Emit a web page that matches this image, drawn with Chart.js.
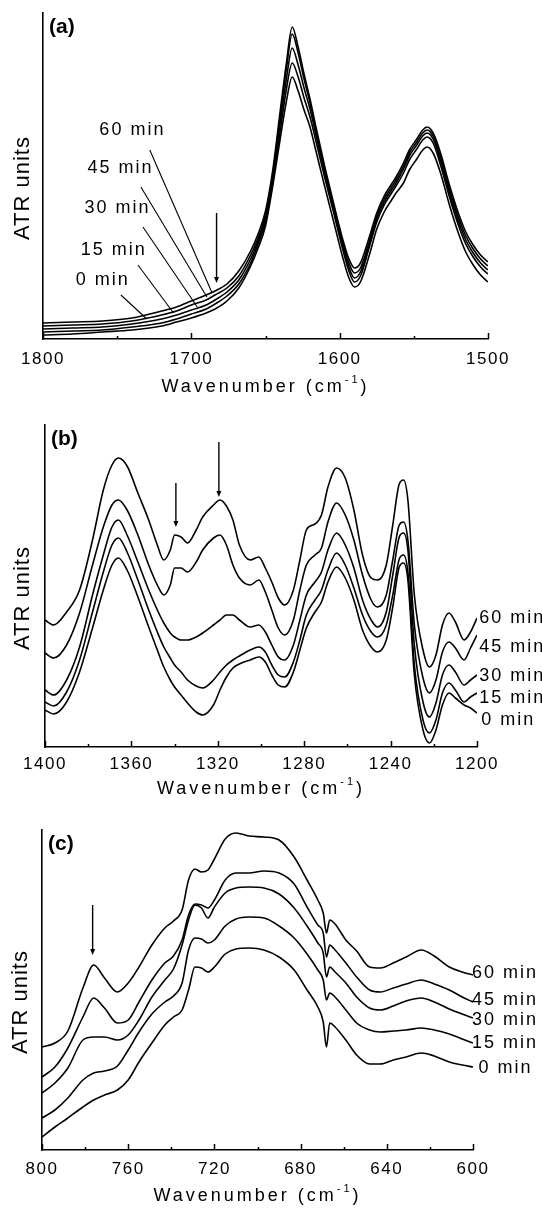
<!DOCTYPE html>
<html>
<head>
<meta charset="utf-8">
<script src="https://cdn.jsdelivr.net/npm/chart.js@4"></script>
<style>
  body { margin: 0; background: #fff; }
  canvas { position: absolute; left: 0; }
</style>
</head>
<body>
<canvas id="chartA" width="542" height="405" style="top:0"></canvas>
<canvas id="chartB" width="542" height="405" style="top:405px"></canvas>
<canvas id="chartC" width="542" height="400" style="top:810px"></canvas>
<script>
const times = ["60 min", "45 min", "30 min", "15 min", "0 min"];

// (a) amide region, 1800-1500 cm-1
const wnA = [1800, 1780, 1760, 1740, 1720, 1710, 1700, 1690, 1684, 1676, 1668, 1660, 1655, 1650, 1645, 1640, 1636, 1632, 1628, 1624, 1620, 1616, 1610, 1604, 1598, 1594, 1590, 1586, 1580, 1575, 1570, 1565, 1562, 1557, 1553, 1548, 1544, 1541, 1537, 1532, 1526, 1520, 1515, 1510, 1505, 1500];
const a60 = [16, 17, 18, 21, 28, 32, 38, 44, 48, 55, 68, 88, 105, 128, 170, 229, 275, 312, 292, 265, 240, 212, 172, 135, 100, 81, 71, 76, 102, 126, 143, 155, 162, 176, 189, 200, 209, 212, 206, 186, 154, 126, 107, 94, 84, 77];
const a45 = [13, 14, 15, 18, 24, 28, 34, 39, 44, 51, 63, 84, 101, 124, 166, 224, 269, 305, 286, 260, 236, 209, 169, 133, 97, 77, 66, 71, 98, 123, 140, 152, 159, 173, 186, 197, 206, 209, 203, 182, 150, 122, 103, 90, 80, 73];
const a30 = [10, 11, 12, 15, 20, 24, 29, 34, 39, 47, 59, 80, 98, 121, 162, 217, 259, 291, 274, 251, 230, 204, 166, 130, 94, 73, 61, 67, 95, 120, 137, 149, 156, 170, 183, 194, 203, 206, 200, 178, 146, 118, 99, 86, 76, 69];
const a15 = [7, 8, 9, 12, 16, 20, 25, 30, 35, 43, 55, 76, 95, 117, 158, 209, 249, 276, 262, 241, 222, 198, 161, 126, 90, 69, 57, 63, 92, 117, 134, 146, 153, 166, 179, 190, 199, 202, 196, 174, 142, 114, 95, 82, 72, 65];
const a0 = [4, 5, 7, 9, 13, 17, 21, 26, 30, 38, 51, 73, 91, 113, 154, 201, 237, 262, 248, 229, 212, 188, 152, 117, 82, 62, 52, 57, 84, 110, 127, 139, 146, 156, 169, 180, 189, 192, 186, 166, 134, 106, 87, 74, 64, 57];
const ticksA = [1800, 1700, 1600, 1500];
const minorA = [1750, 1650, 1550];

// (b) 1400-1200 cm-1
const wnB = [1400, 1396, 1390, 1384, 1378, 1373, 1369, 1366, 1362, 1357, 1352, 1348, 1345, 1342, 1340, 1337, 1334, 1330, 1327, 1322, 1319, 1316, 1313, 1310, 1305, 1301, 1298, 1295, 1292, 1289, 1285, 1282, 1279, 1275, 1272, 1269, 1265, 1261, 1257, 1253, 1249, 1246, 1242, 1239, 1236, 1234, 1232, 1229, 1225, 1222, 1219, 1216, 1213, 1210, 1206, 1203, 1200];
const b60 = [127, 122, 135, 157, 207, 257, 282, 289, 281, 254, 227, 202, 187, 197, 212, 210, 204, 217, 230, 242, 247, 241, 227, 202, 187, 190, 179, 165, 149, 142, 157, 187, 217, 223, 232, 260, 279, 269, 237, 192, 169, 167, 182, 222, 263, 267, 247, 152, 97, 80, 92, 122, 134, 125, 107, 115, 129];
const b45 = [94, 89, 102, 134, 182, 220, 242, 247, 237, 212, 182, 162, 152, 162, 179, 179, 175, 185, 197, 209, 212, 202, 182, 169, 162, 167, 155, 137, 119, 112, 127, 157, 182, 192, 199, 225, 244, 232, 207, 172, 147, 140, 152, 187, 222, 225, 207, 122, 69, 54, 67, 95, 105, 99, 87, 99, 112];
const b30 = [57, 52, 67, 100, 152, 192, 220, 227, 212, 185, 157, 137, 124, 114, 110, 107, 107, 110, 114, 122, 127, 132, 132, 127, 120, 122, 115, 102, 90, 87, 102, 127, 152, 165, 175, 197, 214, 202, 179, 147, 127, 120, 135, 172, 210, 214, 197, 102, 45, 30, 44, 72, 82, 75, 62, 67, 72];
const b15 = [45, 41, 55, 87, 135, 175, 202, 209, 195, 167, 137, 115, 100, 89, 82, 75, 67, 61, 59, 67, 75, 82, 87, 91, 97, 100, 95, 82, 72, 70, 85, 107, 132, 147, 157, 177, 194, 182, 159, 132, 115, 110, 122, 152, 188, 192, 175, 82, 27, 14, 27, 54, 64, 57, 45, 50, 54];
const b0 = [37, 33, 45, 75, 119, 157, 182, 189, 177, 150, 120, 97, 80, 67, 60, 52, 44, 35, 32, 42, 57, 70, 79, 83, 87, 90, 85, 72, 62, 60, 75, 97, 119, 135, 145, 165, 180, 169, 147, 117, 100, 95, 107, 140, 180, 184, 167, 72, 17, 4, 17, 42, 54, 49, 42, 39, 34];
const ticksB = [1400, 1360, 1320, 1280, 1240, 1200];
const minorB = [1380, 1340, 1300, 1260, 1220];

// (c) 800-600 cm-1
const wnC = [800, 794, 788, 781, 776, 771, 765, 760, 755, 749, 743, 739, 735, 732, 729, 726, 723, 720, 715, 710, 704, 697, 690, 683, 677, 672, 669.5, 668, 666.5, 664, 659, 654, 648, 643, 637, 631, 624, 618, 611, 605, 600];
const c60 = [103, 107, 119, 162, 185, 172, 158, 167, 183, 205, 222, 229, 240, 270, 281, 278, 280, 291, 311, 317, 314, 313, 310, 293, 270, 250, 237, 217, 230, 226, 210, 199, 183, 182, 187, 193, 200, 194, 183, 178, 175];
const c45 = [73, 83, 102, 133, 152, 142, 127, 130, 148, 170, 187, 194, 210, 235, 246, 245, 242, 250, 270, 277, 277, 279, 277, 266, 243, 225, 217, 193, 205, 200, 187, 173, 160, 158, 162, 166, 170, 166, 160, 153, 148];
const c30 = [57, 67, 82, 110, 113, 113, 110, 115, 130, 153, 170, 181, 205, 230, 245, 242, 232, 243, 257, 262, 263, 262, 256, 242, 224, 207, 197, 173, 183, 178, 167, 153, 142, 140, 144, 149, 152, 148, 141, 136, 132];
const c15 = [32, 40, 52, 70, 77, 79, 84, 100, 118, 136, 148, 154, 167, 200, 212, 211, 207, 210, 224, 231, 233, 232, 224, 212, 196, 180, 170, 150, 157, 153, 140, 127, 120, 118, 119, 120, 122, 120, 116, 111, 107];
const c0 = [13, 23, 32, 43, 50, 55, 60, 70, 88, 107, 125, 133, 140, 160, 183, 182, 178, 183, 196, 201, 202, 200, 193, 180, 160, 143, 128, 103, 127, 123, 110, 95, 86, 86, 90, 93, 97, 94, 88, 85, 83];
const ticksC = [800, 760, 720, 680, 640, 600];
const minorC = [780, 740, 700, 660, 620];

const FONT = '"Liberation Sans", Arial, sans-serif';
Chart.defaults.font.family = FONT;
Chart.defaults.color = "#000";

function makeDecor(p) {
  return {
    id: "decor",
    beforeDraw(chart) {
      chart.ctx.letterSpacing = "1.5px";
    },
    afterDraw(chart) {
      const { ctx, chartArea: area } = chart;
      const px = (w) => chart.scales.x.getPixelForValue(w);
      const py = (v) => chart.scales.y.getPixelForValue(v);
      ctx.save();
      ctx.strokeStyle = "#000";
      ctx.fillStyle = "#000";

      // tick marks pointing into the plot
      ctx.lineWidth = 1.5;
      const mark = (w, len) => {
        const x = Math.round(px(w)) + 0.5;
        ctx.beginPath();
        ctx.moveTo(x, area.bottom);
        ctx.lineTo(x, area.bottom - len);
        ctx.stroke();
      };
      p.ticks.forEach((w) => mark(w, 6));
      p.minor.forEach((w) => mark(w, 3));

      // arrows
      ctx.lineWidth = 1.4;
      p.arrows.forEach(([w, from, to]) => {
        const x = px(w), y1 = py(from), y2 = py(to);
        ctx.beginPath();
        ctx.moveTo(x, y1);
        ctx.lineTo(x, y2 - 4);
        ctx.stroke();
        ctx.beginPath();
        ctx.moveTo(x - 2.5, y2 - 6);
        ctx.lineTo(x + 2.5, y2 - 6);
        ctx.lineTo(x, y2);
        ctx.closePath();
        ctx.fill();
      });

      // leader lines
      ctx.lineWidth = 1.1;
      p.leaders.forEach(([w1, v1, w2, v2]) => {
        ctx.beginPath();
        ctx.moveTo(px(w1), py(v1));
        ctx.lineTo(px(w2), py(v2));
        ctx.stroke();
      });

      // time labels
      ctx.font = "18px " + FONT;
      ctx.letterSpacing = "2px";
      ctx.textAlign = "left";
      ctx.textBaseline = "middle";
      p.labels.forEach(([text, w, v]) => ctx.fillText(text, px(w), py(v)));

      // panel letter
      ctx.font = "bold 21px " + FONT;
      ctx.letterSpacing = "0px";
      ctx.fillText(p.letter, area.left + 6, area.top + 14);

      // x title with superscript
      const parts = [["Wavenumber (cm", "18px " + FONT, 0], ["-1", "11px " + FONT, -7], [")", "18px " + FONT, 0]];
      ctx.letterSpacing = "3px";
      let total = 0;
      parts.forEach((q) => { ctx.font = q[1]; q.push(ctx.measureText(q[0]).width); total += q[3]; });
      let x = (area.left + area.right) / 2 - total / 2;
      const ty = area.bottom + p.titleGap;
      parts.forEach((q) => {
        ctx.font = q[1];
        ctx.fillText(q[0], x, ty + q[2]);
        x += q[3];
      });

      // y title
      ctx.translate(p.yTitleX, (area.top + area.bottom) / 2 + 12);
      ctx.rotate(-Math.PI / 2);
      ctx.font = "22px " + FONT;
      ctx.letterSpacing = "1px";
      ctx.textAlign = "center";
      ctx.fillText("ATR units", 0, 0);
      ctx.restore();
    },
  };
}

function makePanel(id, p) {
  const datasets = p.series.map((vals) => ({
    data: p.wn.map((w, i) => ({ x: w, y: vals[i] })),
    borderColor: "#000",
    borderWidth: 1.6,
    pointRadius: 0,
    showLine: true,
    fill: false,
    cubicInterpolationMode: "monotone",
  }));
  return new Chart(document.getElementById(id), {
    type: "scatter",
    data: { datasets },
    options: {
      responsive: false,
      animation: false,
      events: [],
      layout: { padding: { top: p.top, right: p.right, left: 0, bottom: 0 } },
      plugins: { legend: { display: false }, tooltip: { enabled: false } },
      scales: {
        x: {
          type: "linear",
          reverse: true,
          min: p.min,
          max: p.max,
          afterBuildTicks: (s) => {
            s.ticks = p.ticks.slice().sort((a, b) => a - b).map((v) => ({ value: v }));
          },
          afterFit: (s) => { s.height = p.xHeight; },
          grid: { display: false, drawTicks: false },
          border: { color: "#000", width: 1.6 },
          ticks: {
            color: "#000",
            padding: p.tickPad,
            font: { size: 17 },
            maxRotation: 0,
            autoSkip: false,
            callback: (v) => String(v),
          },
        },
        y: {
          min: 0,
          max: p.yMax,
          afterFit: (s) => { s.width = p.left; },
          grid: { display: false, drawTicks: false },
          border: { color: "#000", width: 1.6 },
          ticks: { display: false },
        },
      },
    },
    plugins: [makeDecor(p)],
  });
}

makePanel("chartA", {
  wn: wnA, series: [a60, a45, a30, a15, a0],
  min: 1500, max: 1800, ticks: ticksA, minor: minorA,
  top: 13, right: 54, left: 43, xHeight: 66, yMax: 326, tickPad: 10, titleGap: 48, yTitleX: 23,
  letter: "(a)",
  arrows: [[1683, 126, 56]],
  leaders: [
    [1728, 189, 1686, 46],
    [1734, 152, 1689.5, 42],
    [1732.6, 112, 1696, 32],
    [1736, 74, 1712, 26],
    [1747.5, 44, 1730, 20],
  ],
  labels: [
    [times[0], 1762, 209],
    [times[1], 1770, 171],
    [times[2], 1772, 131],
    [times[3], 1774.5, 89],
    [times[4], 1778, 59],
  ],
});

makePanel("chartB", {
  wn: wnB, series: [b60, b45, b30, b15, b0],
  min: 1200, max: 1400, ticks: ticksB, minor: minorB,
  top: 20, right: 65, left: 45, xHeight: 63, yMax: 322, tickPad: 7, titleGap: 42, yTitleX: 23,
  letter: "(b)",
  arrows: [[1339.4, 264, 220], [1319.5, 305, 250]],
  leaders: [],
  labels: [
    [times[0], 1199, 129],
    [times[1], 1199, 100],
    [times[2], 1199, 71],
    [times[3], 1199, 49],
    [times[4], 1198, 27],
  ],
});

makePanel("chartC", {
  wn: wnC, series: [c60, c45, c30, c15, c0],
  min: 600, max: 800, ticks: ticksC, minor: minorC,
  top: 20, right: 69, left: 42, xHeight: 60, yMax: 320, tickPad: 9, titleGap: 46, yTitleX: 21,
  letter: "(c)",
  arrows: [[776.5, 245, 195]],
  leaders: [],
  labels: [
    [times[0], 600.5, 177],
    [times[1], 600.5, 150],
    [times[2], 600.5, 130],
    [times[3], 600.5, 107],
    [times[4], 597.5, 82],
  ],
});
</script>
</body>
</html>
